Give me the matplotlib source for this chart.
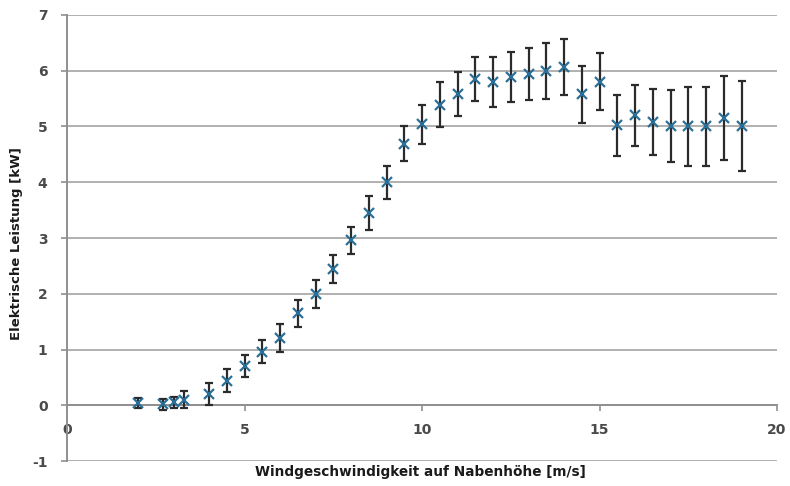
import matplotlib
matplotlib.use("Agg")
import matplotlib.pyplot as plt

plt.rcParams['axes.unicode_minus'] = False

wind_speed = [2.0, 2.7, 3.0, 3.3, 4.0, 4.5, 5.0, 5.5, 6.0, 6.5, 7.0, 7.5, 8.0, 8.5,
              9.0, 9.5, 10.0, 10.5, 11.0, 11.5, 12.0, 12.5, 13.0, 13.5, 14.0, 14.5,
              15.0, 15.5, 16.0, 16.5, 17.0, 17.5, 18.0, 18.5, 19.0]
power_kw = [0.04, 0.02, 0.05, 0.10, 0.20, 0.44, 0.70, 0.96, 1.21, 1.65, 2.00, 2.45, 2.96, 3.45,
            4.00, 4.69, 5.04, 5.39, 5.58, 5.85, 5.80, 5.89, 5.94, 5.99, 6.07, 5.58,
            5.80, 5.02, 5.20, 5.08, 5.01, 5.00, 5.00, 5.15, 5.01]
power_err = [0.09, 0.10, 0.10, 0.15, 0.20, 0.21, 0.20, 0.21, 0.25, 0.24, 0.25, 0.25, 0.24, 0.30,
             0.30, 0.31, 0.35, 0.40, 0.40, 0.40, 0.45, 0.45, 0.46, 0.50, 0.50, 0.51,
             0.51, 0.55, 0.55, 0.60, 0.65, 0.70, 0.70, 0.75, 0.80]
x_ticks = [0, 5, 10, 15, 20]
y_ticks = [-1, 0, 1, 2, 3, 4, 5, 6, 7]
x_label = "Windgeschwindigkeit auf Nabenhöhe [m/s]"
y_label = "Elektrische Leistung [kW]"

fig = plt.figure(figsize=(7.9, 4.86), dpi=100)
ax = fig.add_axes([67/790, 25/486, 710/790, 446/486])

ax.errorbar(wind_speed, power_kw, yerr=power_err, fmt='none', ecolor='#2b2b2b',
            elinewidth=1.6, capsize=3, capthick=1.6, zorder=3)
ax.plot(wind_speed, power_kw, linestyle='none', marker='x', markersize=7,
        markeredgewidth=1.6, color='#2a6f97', zorder=4)

ax.set_xlim(0, 20)
ax.set_ylim(-1, 7)
ax.set_xticks(x_ticks)
ax.set_yticks(y_ticks)

grid_col = '#b0b0b0'
ax.yaxis.grid(True, color=grid_col, linewidth=1.4, zorder=0)
ax.set_axisbelow(True)
for s in ['top', 'right']:
    ax.spines[s].set_visible(False)
ax.spines['bottom'].set_position(('data', 0))
ax.spines['bottom'].set_color('#909090')
ax.spines['bottom'].set_linewidth(1.4)
ax.spines['left'].set_color('#909090')
ax.spines['left'].set_linewidth(1.4)

ax.tick_params(axis='both', direction='out', length=4, width=1.2, color='#909090',
               labelcolor='#4a4a4a', labelsize=10)
ax.tick_params(axis='x', pad=9)
ax.tick_params(axis='y', pad=10)
for lbl in ax.get_xticklabels() + ax.get_yticklabels():
    lbl.set_fontweight('bold')

fig.text(420/790, 1 - 472/486, x_label, ha='center', va='center', fontsize=9.8,
         fontweight='bold', color='#1a1a1a')
fig.text(17/790, 1 - 244/486, y_label, ha='center', va='center', rotation=90,
         fontsize=9.5, fontweight='bold', color='#1a1a1a')

fig.savefig('out.png', dpi=100)
